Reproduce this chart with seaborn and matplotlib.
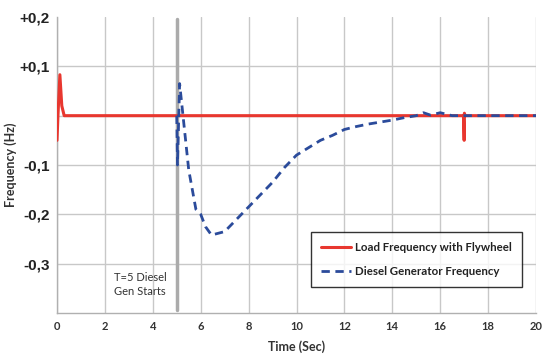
import numpy as np
import pandas as pd
import matplotlib
matplotlib.use("Agg")
import matplotlib.pyplot as plt
import seaborn as sns

# Data
t_load = [0.0, 0.04, 0.12, 0.2, 0.3, 16.97, 17.0, 17.01, 17.04, 20.0]
f_load = [-0.05, 0.0, 0.083, 0.02, 0.0, 0.0, -0.05, 0.005, 0.0, 0.0]

t_gen = [5.0, 5.03, 5.12, 5.5, 5.8, 6.0, 6.2, 6.45, 7.0, 7.4, 8.0, 8.5, 9.0, 9.5,
         10.0, 10.5, 11.0, 11.5, 12.0, 12.5, 13.0, 13.5, 14.0, 14.5, 15.0, 15.3,
         15.6, 16.0, 16.5, 17.0, 18.0, 19.0, 20.0]
f_gen = [0.0, -0.1, 0.065, -0.11, -0.19, -0.2, -0.225, -0.242, -0.235, -0.215,
         -0.185, -0.16, -0.135, -0.105, -0.08, -0.065, -0.05, -0.04, -0.028,
         -0.022, -0.017, -0.013, -0.009, -0.004, 0.0, 0.006, 0.001, 0.006, 0.0,
         0.0, 0.0, 0.0, 0.0]

x_ticks = [0, 2, 4, 6, 8, 10, 12, 14, 16, 18, 20]
y_ticks = [-0.3, -0.2, -0.1, 0.0, 0.1, 0.2]
y_tick_labels = ["-0,3", "-0,2", "-0,1", "", "+0,1", "+0,2"]

label_load = "Load Frequency with Flywheel"
label_gen = "Diesel Generator Frequency"

sns.set_theme(style="white")
plt.rcParams['font.family'] = ['Lato', 'DejaVu Sans']

fig = plt.figure(figsize=(5.42, 3.56), dpi=100)
ax = fig.add_axes([57/542, 1-313/356, 479/542, 296/356])

df_load = pd.DataFrame({"t": t_load, "f": f_load})
df_gen = pd.DataFrame({"t": t_gen, "f": f_gen})

# start marker
ax.axvline(5, ymin=0.01, ymax=0.993, color="#ABABAB", lw=2.5, zorder=1)

sns.lineplot(data=df_load, x="t", y="f", ax=ax, color="#E8372F", lw=2.2,
             estimator=None, sort=False, label=label_load, zorder=3)
sns.lineplot(data=df_gen, x="t", y="f", ax=ax, color="#2B4B9B", lw=2,
             estimator=None, sort=False, label=label_gen, zorder=4)
ax.lines[-1].set_dashes([3, 2])

ax.set_xlim(0, 20)
ax.set_ylim(-0.4, 0.2)
ax.set_xticks(x_ticks)
ax.set_xticklabels([str(v) for v in x_ticks], fontsize=8, fontweight="bold",
                   color="#333333")
ax.set_yticks(y_ticks)
ax.set_yticklabels(y_tick_labels, fontsize=11, fontweight="bold",
                   family=["Liberation Sans", "DejaVu Sans"], color="#222222")
ax.tick_params(axis="both", length=0, pad=6)
ax.tick_params(axis="y", pad=5)

ax.grid(True, color="#C8C8C8", lw=1)
ax.yaxis.get_gridlines()[-1].set_visible(False)
ax.set_axisbelow(True)
for s in ["top", "right"]:
    ax.spines[s].set_visible(False)
for s in ["left", "bottom"]:
    ax.spines[s].set_color("#B0B0B0")
    ax.spines[s].set_linewidth(1)

ax.set_xlabel("Time (Sec)", fontsize=9, fontweight="bold", color="#333333",
              labelpad=6)
ax.set_ylabel("Frequency (Hz)", fontsize=9, fontweight="bold", color="#333333",
              labelpad=2)

ax.text(2.4, -0.343, "T=5 Diesel\nGen Starts", fontsize=8, color="#333333",
        va="center", ha="left", linespacing=1.35)

leg = ax.legend(loc="lower right", bbox_to_anchor=(0.97, 0.088), fontsize=8.3,
                frameon=True, fancybox=False, edgecolor="black",
                handlelength=2.6, borderpad=0.9, labelspacing=1.1,
                handletextpad=0.3, borderaxespad=0)
leg.get_frame().set_linewidth(1)
for txt in leg.get_texts():
    txt.set_fontweight("bold")
    txt.set_color("#222222")

fig.savefig("out.png", dpi=100)
